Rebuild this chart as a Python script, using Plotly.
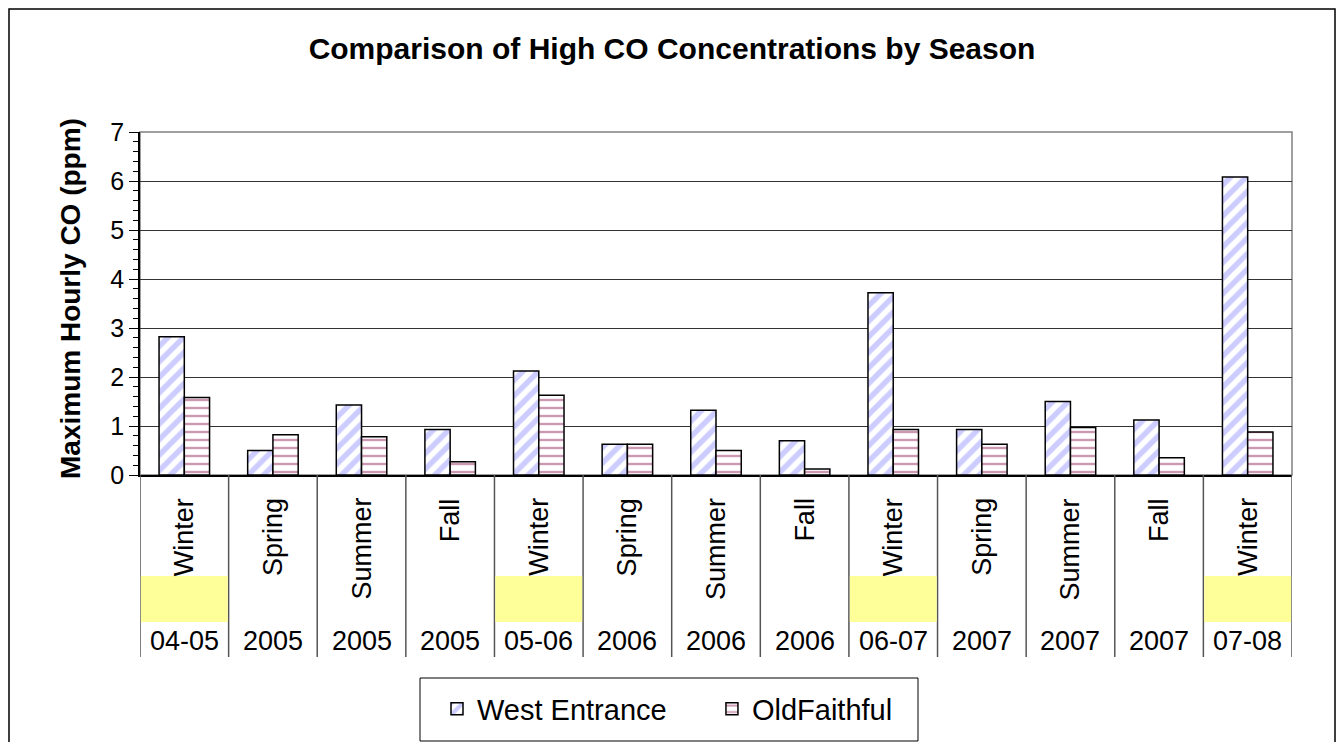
import plotly.graph_objects as go

seasons = ["Winter", "Spring", "Summer", "Fall", "Winter", "Spring", "Summer", "Fall",
           "Winter", "Spring", "Summer", "Fall", "Winter"]
years = ["04-05", "2005", "2005", "2005", "05-06", "2006", "2006", "2006",
         "06-07", "2007", "2007", "2007", "07-08"]
west_entrance = [2.82, 0.50, 1.43, 0.93, 2.12, 0.63, 1.32, 0.70, 3.72, 0.93, 1.50, 1.12, 6.08]
old_faithful = [1.58, 0.82, 0.78, 0.27, 1.63, 0.63, 0.50, 0.12, 0.93, 0.63, 0.97, 0.35, 0.88]
y_ticks = [0, 1, 2, 3, 4, 5, 6, 7]

FONT = "Liberation Sans, Arial, sans-serif"
OFF = 8  # page body margin on each side
W, H = 1344 - 2 * OFF, 750 - 2 * OFF
PLOT_L, PLOT_R, PLOT_T, PLOT_B = 140, 1292, 132, 475  # reference pixel coords
L = PLOT_L - OFF
T = PLOT_T - OFF
B = H - (PLOT_B - OFF)
R = W - (PLOT_R - OFF)
PH = PLOT_B - PLOT_T
PW = PLOT_R - PLOT_L

def py(p):  # reference pixel y -> paper y
    return (PLOT_B - p) / PH

def px(p):  # reference pixel x -> paper x
    return (p - PLOT_L) / PW

x = list(range(len(seasons)))

fig = go.Figure()
fig.add_trace(go.Bar(
    x=x, y=west_entrance, name="West Entrance" + "\u00a0" * 5,
    marker=dict(color="white", line=dict(color="black", width=1.5),
                pattern=dict(shape="/", fgcolor="#9999FF", bgcolor="white", size=11, solidity=0.5)),
))
fig.add_trace(go.Bar(
    x=x, y=old_faithful, name="OldFaithful",
    marker=dict(color="white", line=dict(color="black", width=1.5),
                pattern=dict(shape="-", fgcolor="#993366", bgcolor="white", size=8, solidity=0.3)),
))

shapes = []
# outer chart border (bottom edge lies beyond the visible area, as in the reference)
shapes.append(dict(type="rect", xref="paper", yref="paper",
                   x0=px(OFF + 1), x1=px(1344 - OFF - 1), y0=py(OFF + 1), y1=py(770),
                   line=dict(color="black", width=1.5), layer="below"))
# plot area border (gray)
shapes.append(dict(type="rect", xref="paper", yref="paper", x0=0, x1=1, y0=0, y1=1,
                   line=dict(color="#808080", width=1.5), layer="below"))
# legend box
shapes.append(dict(type="rect", xref="paper", yref="paper", x0=px(420), x1=px(918), y0=py(678), y1=py(741),
                   line=dict(color="black", width=1), fillcolor="white", layer="below"))
# category separators
for i in range(len(seasons) + 1):
    shapes.append(dict(type="line", xref="x", yref="paper", x0=i - 0.5, x1=i - 0.5,
                       y0=0, y1=py(657), line=dict(color="#555555", width=1.5)))
annotations = []
for i, (s, yr) in enumerate(zip(seasons, years)):
    annotations.append(dict(x=i, xref="x", y=py(496), yref="paper", text=s, textangle=-90,
                            showarrow=False, xanchor="center", yanchor="top",
                            font=dict(family=FONT, size=27, color="black")))
    annotations.append(dict(x=i, xref="x", y=py(641), yref="paper", text=yr,
                            showarrow=False, xanchor="center", yanchor="middle",
                            font=dict(family=FONT, size=27, color="black")))
    if s == "Winter":
        shapes.append(dict(type="rect", xref="x", yref="paper", x0=i - 0.49, x1=i + 0.49,
                           y0=py(576), y1=py(622), fillcolor="#FFFF99", line=dict(width=0), layer="above"))

annotations.append(dict(x=px(70), xref="paper", y=py(299), yref="paper", text="<b>Maximum Hourly CO (ppm)</b>",
                        textangle=-90, showarrow=False, xanchor="center", yanchor="middle",
                        font=dict(family=FONT, size=28, color="black")))

fig.update_layout(
    width=W, height=H,
    margin=dict(l=L, r=R, t=T, b=B, autoexpand=False),
    paper_bgcolor="white", plot_bgcolor="white",
    title=dict(text="<b>Comparison of High CO Concentrations by Season</b>", x=(672 - OFF) / W, xanchor="center",
               y=1 - (48 - OFF) / H, yanchor="middle", font=dict(family=FONT, size=30, color="black")),
    barmode="group", bargap=0.43, bargroupgap=0,
    showlegend=True,
    legend=dict(orientation="h", x=px(437), xanchor="left", y=py(709), yanchor="middle",
                borderwidth=0, bgcolor="rgba(0,0,0,0)",
                font=dict(family=FONT, size=29, color="black"), itemwidth=30),
    shapes=shapes, annotations=annotations,
    font=dict(family=FONT, color="black"),
)
fig.update_xaxes(range=[-0.5, len(seasons) - 0.5], showticklabels=False, ticks="",
                 showgrid=False, zeroline=False, showline=True, linecolor="black", linewidth=1.5)
fig.update_yaxes(range=[0, 7], tickvals=y_ticks, ticks="outside", ticklen=9, tickcolor="black",
                 showgrid=True, gridcolor="#333333", gridwidth=1, zeroline=False,
                 showline=True, linecolor="black", linewidth=1.5,
                 tickfont=dict(family=FONT, size=25, color="black"),
                 minor=dict(dtick=0.2, ticks="outside", ticklen=5, tickcolor="black", showgrid=False))

fig.write_html("out.html")
